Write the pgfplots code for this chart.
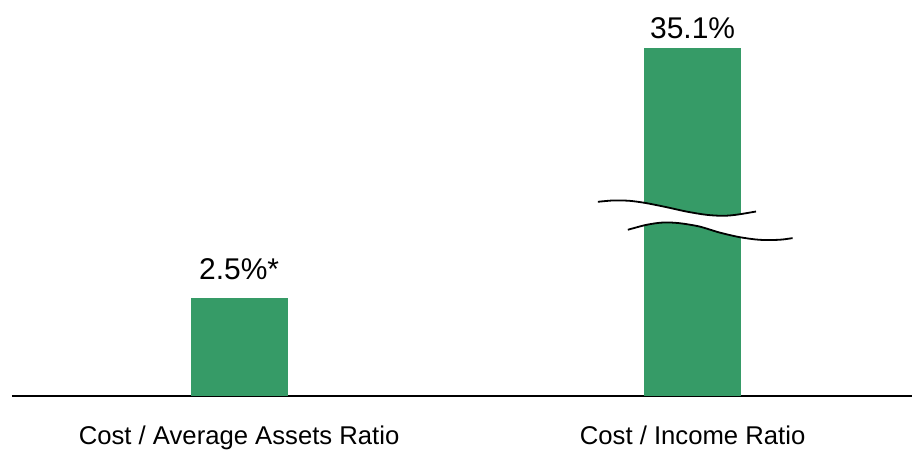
\documentclass[border=0pt]{standalone}
\usepackage{pgfplots}
\pgfplotsset{compat=1.18}
\usepackage{fontspec}
\setmainfont{Liberation Sans}
\definecolor{bargreen}{RGB}{54,155,103}

% Broken value axis: linear up to 4.5, compressed above it
\newcommand{\breakat}{4.5}
\newcommand{\breakscale}{0.14307}

\begin{document}
\begin{tikzpicture}
\begin{axis}[
  at={(0,0)}, anchor=south west,
  scale only axis,
  width=901bp, height=396bp,
  xmin=-0.5007, xmax=1.4839,
  ymin=0, ymax=43.656,
  enlargelimits=false,
  y coord trafo/.code={\pgfmathparse{#1>\breakat ? \breakat+(#1-\breakat)*\breakscale : #1}},
  axis x line=bottom,
  axis y line=none,
  axis line style={black, line width=1.8bp, -},
  xtick={0,1},
  xticklabels={Cost / Average Assets Ratio, Cost / Income Ratio},
  xtick style={draw=none},
  xticklabel style={anchor=base, yshift=-45bp, inner sep=0pt,
    font=\fontsize{25.7bp}{30bp}\selectfont},
  ytick=\empty,
  clip=false,
  ybar, bar width=97bp, bar shift=0pt,
  nodes near coords,
  point meta=explicit symbolic,
]
\addplot[fill=bargreen, draw=none,
  nodes near coords style={anchor=base, inner sep=0pt, yshift=18.5bp,
    font=\fontsize{30bp}{36bp}\selectfont}]
  coordinates {(0,2.5) [2.5\%*]};
\addplot[fill=bargreen, draw=none,
  nodes near coords style={anchor=base, inner sep=0pt, yshift=9.7bp,
    font=\fontsize{30bp}{36bp}\selectfont}]
  coordinates {(1,35.1) [35.1\%]};

% axis break on the tall bar
\fill[white]
  plot[smooth] coordinates {
    (rel axis cs:0.6509,0.4899) (rel axis cs:0.6676,0.4932) (rel axis cs:0.6861,0.4924)
    (rel axis cs:0.7046,0.4866) (rel axis cs:0.7268,0.4765) (rel axis cs:0.7490,0.4654)
    (rel axis cs:0.7712,0.4571) (rel axis cs:0.7896,0.4545) (rel axis cs:0.8045,0.4571)
    (rel axis cs:0.8266,0.4654)}
  -- plot[smooth] coordinates {
    (rel axis cs:0.8672,0.3982) (rel axis cs:0.8524,0.3939) (rel axis cs:0.8302,0.3939)
    (rel axis cs:0.8080,0.4007) (rel axis cs:0.7858,0.4124) (rel axis cs:0.7636,0.4275)
    (rel axis cs:0.7414,0.4359) (rel axis cs:0.7236,0.4376) (rel axis cs:0.7051,0.4318)
    (rel axis cs:0.6842,0.4192)}
  -- cycle;
\draw[black, line width=1.8bp] plot[smooth] coordinates {
    (rel axis cs:0.6509,0.4899) (rel axis cs:0.6676,0.4932) (rel axis cs:0.6861,0.4924)
    (rel axis cs:0.7046,0.4866) (rel axis cs:0.7268,0.4765) (rel axis cs:0.7490,0.4654)
    (rel axis cs:0.7712,0.4571) (rel axis cs:0.7896,0.4545) (rel axis cs:0.8045,0.4571)
    (rel axis cs:0.8266,0.4654)};
\draw[black, line width=1.8bp] plot[smooth] coordinates {
    (rel axis cs:0.6842,0.4192) (rel axis cs:0.7051,0.4318) (rel axis cs:0.7236,0.4376)
    (rel axis cs:0.7414,0.4359) (rel axis cs:0.7636,0.4275) (rel axis cs:0.7858,0.4124)
    (rel axis cs:0.8080,0.4007) (rel axis cs:0.8302,0.3939) (rel axis cs:0.8524,0.3939)
    (rel axis cs:0.8672,0.3982)};
\end{axis}
\path[use as bounding box] (-12bp,-51bp) rectangle (901bp,396bp);
\end{tikzpicture}
\end{document}
